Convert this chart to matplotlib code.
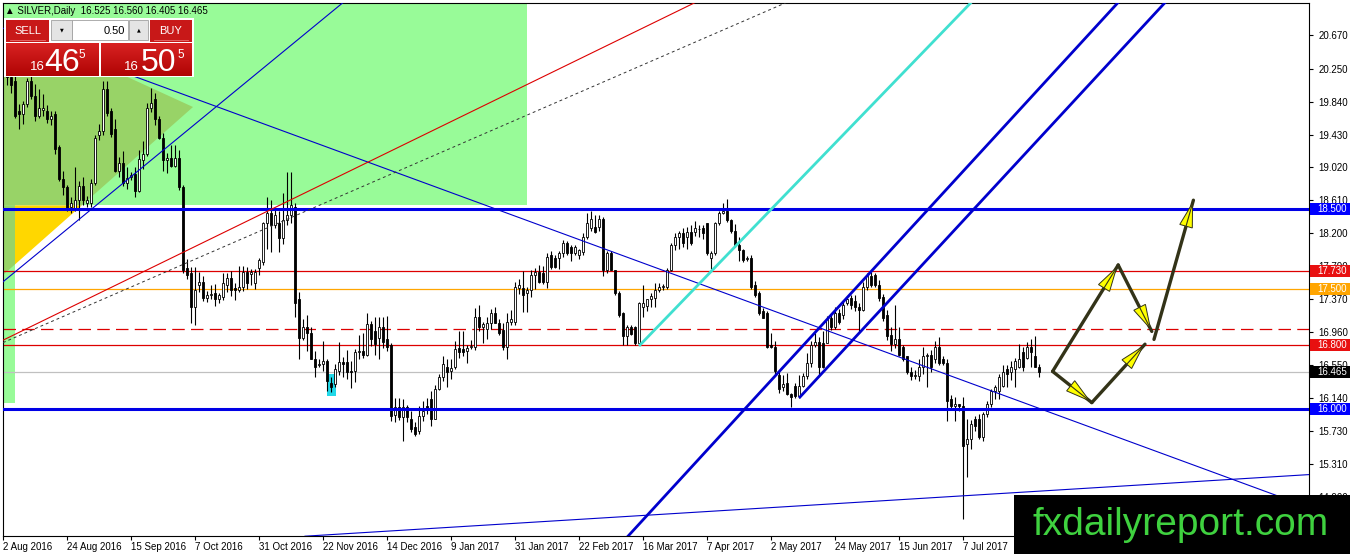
import numpy as np
import matplotlib
matplotlib.use('Agg')
import matplotlib.pyplot as plt
from matplotlib.patches import Rectangle, Polygon
from matplotlib.colors import LinearSegmentedColormap

# daily candles, bar index 0 .. 258 (left to right)
opens = [20.20, 20.15, 20.10, 19.73, 19.69, 19.81, 20.10, 19.91, 19.66, 19.74,
         19.72, 19.62, 19.69, 19.27, 18.88, 18.77, 18.52, 18.51, 18.61, 18.79,
         18.58, 18.58, 18.83, 19.42, 19.48, 20.00, 19.73, 19.50, 18.98, 19.07,
         18.83, 18.90, 18.94, 18.73, 19.11, 19.19, 19.76, 19.87, 19.63, 19.39,
         19.11, 19.14, 19.04, 19.14, 18.77, 17.76, 17.70, 17.28, 17.55, 17.59,
         17.39, 17.43, 17.45, 17.37, 17.40, 17.55, 17.64, 17.51, 17.49, 17.53,
         17.71, 17.69, 17.58, 17.76, 17.84, 18.32, 18.45, 18.30, 18.32, 18.14,
         18.36, 18.42, 18.52, 17.37, 16.89, 17.03, 16.95, 16.62, 16.55, 16.56,
         16.60, 16.33, 16.31, 16.47, 16.59, 16.59, 16.47, 16.47, 16.71, 16.72,
         16.68, 17.06, 16.97, 16.89, 17.03, 16.87, 16.80, 15.93, 16.03, 15.90,
         16.03, 15.88, 15.78, 15.73, 15.91, 16.04, 16.12, 15.88, 16.25, 16.40,
         16.53, 16.48, 16.53, 16.76, 16.75, 16.72, 16.77, 16.77, 17.15, 17.02,
         17.00, 17.07, 17.20, 17.08, 16.99, 16.77, 17.09, 17.09, 17.51, 17.51,
         17.45, 17.49, 17.68, 17.71, 17.70, 17.59, 17.92, 17.89, 17.89, 17.95,
         18.07, 18.02, 17.95, 17.93, 17.96, 18.15, 18.26, 18.27, 18.27, 18.38,
         17.74, 17.95, 17.74, 17.45, 17.20, 16.91, 17.02, 17.03, 16.83, 17.28,
         17.29, 17.37, 17.39, 17.49, 17.52, 17.53, 17.74, 18.05, 18.15, 18.20,
         18.15, 18.21, 18.21, 18.25, 18.26, 18.32, 17.89, 17.95, 18.32, 18.45,
         18.48, 18.36, 18.23, 18.05, 17.99, 17.87, 17.89, 17.55, 17.45, 17.22,
         17.20, 16.80, 16.78, 16.43, 16.27, 16.33, 16.19, 16.29, 16.16, 16.29,
         16.41, 16.58, 16.80, 16.84, 16.83, 16.83, 17.14, 17.02, 17.20, 17.18,
         17.33, 17.39, 17.35, 17.28, 17.24, 17.52, 17.66, 17.68, 17.55, 17.40,
         17.18, 16.93, 16.81, 16.87, 16.78, 16.66, 16.46, 16.41, 16.41, 16.52,
         16.66, 16.68, 16.62, 16.77, 16.62, 16.58, 16.12, 16.04, 16.06, 16.04,
         15.56, 15.63, 15.87, 15.87, 15.65, 15.94, 16.06, 16.22, 16.22, 16.29,
         16.50, 16.46, 16.50, 16.53, 16.71, 16.64, 16.78, 16.66, 16.525]
highs = [20.35, 20.25, 20.20, 19.81, 19.85, 20.14, 20.18, 20.06, 20.00, 19.94,
         19.80, 19.73, 19.72, 19.30, 18.98, 18.80, 18.65, 19.02, 18.85, 18.90,
         18.66, 18.88, 19.42, 19.56, 20.10, 20.10, 19.76, 19.62, 19.15, 19.23,
         19.02, 18.96, 19.02, 19.24, 19.35, 19.82, 20.01, 19.95, 19.66, 19.45,
         19.20, 19.30, 19.30, 19.24, 18.80, 17.88, 17.77, 17.78, 17.71, 17.66,
         17.47, 17.55, 17.56, 17.45, 17.70, 17.70, 17.72, 17.58, 17.79, 17.79,
         17.78, 17.75, 17.75, 17.89, 18.34, 18.65, 18.61, 18.50, 18.48, 18.70,
         18.96, 18.96, 18.58, 17.46, 17.13, 17.18, 17.02, 16.72, 16.62, 16.85,
         16.62, 16.40, 16.56, 16.84, 16.65, 16.74, 16.60, 16.75, 16.93, 16.95,
         17.20, 17.10, 17.15, 17.15, 17.15, 17.16, 16.82, 16.14, 16.14, 16.12,
         16.05, 15.97, 15.84, 16.04, 16.10, 16.14, 16.22, 16.30, 16.44, 16.66,
         16.62, 16.62, 16.85, 16.97, 16.98, 16.80, 16.86, 17.26, 17.30, 17.09,
         17.15, 17.25, 17.27, 17.13, 17.07, 17.20, 17.24, 17.59, 17.63, 17.72,
         17.53, 17.74, 17.76, 17.80, 17.79, 17.95, 17.97, 17.92, 17.97, 18.11,
         18.10, 18.05, 18.05, 18.00, 18.20, 18.45, 18.47, 18.42, 18.43, 18.40,
         17.97, 17.97, 17.74, 17.47, 17.21, 17.05, 17.05, 17.04, 17.34, 17.55,
         17.38, 17.45, 17.57, 17.57, 17.56, 17.76, 18.07, 18.20, 18.22, 18.26,
         18.27, 18.30, 18.35, 18.30, 18.30, 18.32, 17.97, 18.34, 18.48, 18.57,
         18.62, 18.38, 18.31, 18.15, 18.00, 17.91, 17.92, 17.60, 17.48, 17.26,
         17.22, 16.95, 16.85, 16.48, 16.43, 16.45, 16.20, 16.33, 16.43, 16.45,
         16.70, 16.85, 16.95, 16.90, 16.97, 17.16, 17.20, 17.27, 17.25, 17.36,
         17.41, 17.43, 17.43, 17.33, 17.59, 17.70, 17.71, 17.70, 17.61, 17.44,
         17.24, 17.02, 17.30, 17.02, 16.80, 16.66, 16.52, 16.49, 16.62, 16.77,
         16.70, 16.74, 16.85, 16.90, 16.66, 16.62, 16.18, 16.15, 16.06, 16.15,
         15.88, 15.86, 15.91, 15.94, 15.96, 16.10, 16.25, 16.30, 16.44, 16.55,
         16.55, 16.60, 16.64, 16.81, 16.77, 16.84, 16.87, 16.91, 16.56]
lows = [20.05, 19.95, 19.64, 19.50, 19.56, 19.78, 19.88, 19.60, 19.64, 19.66,
        19.58, 19.55, 19.19, 18.85, 18.67, 18.48, 18.45, 18.48, 18.36, 18.55,
        18.52, 18.52, 18.80, 19.36, 19.42, 19.66, 19.40, 18.96, 18.90, 18.79,
        18.75, 18.86, 18.65, 18.71, 19.00, 19.16, 19.71, 19.55, 19.37, 18.98,
        18.95, 19.02, 19.02, 18.74, 17.70, 17.62, 17.08, 17.05, 17.46, 17.35,
        17.34, 17.38, 17.29, 17.33, 17.36, 17.46, 17.41, 17.36, 17.46, 17.47,
        17.50, 17.55, 17.50, 17.68, 17.80, 18.00, 17.96, 18.26, 17.96, 18.06,
        18.30, 18.32, 17.15, 16.62, 16.86, 16.73, 16.62, 16.40, 16.52, 16.47,
        16.22, 16.21, 16.28, 16.43, 16.40, 16.37, 16.26, 16.34, 16.63, 16.64,
        16.66, 16.79, 16.68, 16.63, 16.76, 16.73, 15.85, 15.84, 15.86, 15.60,
        15.84, 15.71, 15.66, 15.69, 15.85, 15.94, 15.79, 15.88, 16.24, 16.35,
        16.28, 16.38, 16.50, 16.64, 16.66, 16.58, 16.75, 16.74, 16.97, 16.83,
        16.88, 17.00, 17.07, 16.93, 16.74, 16.62, 17.05, 17.05, 17.44, 17.21,
        17.21, 17.40, 17.50, 17.58, 17.56, 17.51, 17.75, 17.76, 17.75, 17.90,
        17.92, 17.85, 17.92, 17.88, 17.92, 18.13, 18.22, 18.20, 18.23, 17.66,
        17.70, 17.74, 17.42, 17.15, 16.80, 16.80, 16.92, 16.80, 16.80, 17.15,
        17.22, 17.28, 17.27, 17.46, 17.49, 17.50, 17.73, 17.99, 18.00, 18.02,
        18.00, 18.05, 18.16, 18.15, 18.12, 17.92, 17.75, 17.92, 18.30, 18.44,
        18.34, 18.20, 18.03, 17.85, 17.84, 17.85, 17.50, 17.40, 17.18, 17.14,
        16.76, 16.76, 16.42, 16.20, 16.22, 16.17, 16.02, 16.14, 16.14, 16.28,
        16.38, 16.52, 16.78, 16.42, 16.51, 16.83, 16.99, 17.00, 17.06, 17.12,
        17.30, 17.25, 17.23, 16.97, 17.23, 17.49, 17.52, 17.52, 17.35, 17.10,
        16.86, 16.72, 16.76, 16.66, 16.60, 16.44, 16.36, 16.37, 16.35, 16.44,
        16.27, 16.46, 16.58, 16.55, 16.55, 15.85, 16.00, 15.85, 15.98, 14.62,
        15.15, 15.50, 15.72, 15.63, 15.60, 15.90, 16.02, 16.13, 16.13, 16.28,
        16.28, 16.36, 16.27, 16.51, 16.48, 16.62, 16.52, 16.53, 16.405]
closes = [20.15, 20.05, 19.66, 19.69, 19.81, 20.10, 19.91, 19.66, 19.76, 19.76,
          19.62, 19.66, 19.25, 18.88, 18.77, 18.51, 18.57, 18.61, 18.79, 18.61,
          18.61, 18.83, 19.39, 19.48, 20.00, 19.70, 19.44, 18.98, 19.07, 18.83,
          18.89, 18.92, 18.73, 19.13, 19.19, 19.76, 19.83, 19.63, 19.39, 19.11,
          19.14, 19.04, 19.14, 18.77, 17.74, 17.68, 17.28, 17.49, 17.59, 17.39,
          17.43, 17.44, 17.37, 17.42, 17.58, 17.64, 17.49, 17.49, 17.53, 17.71,
          17.58, 17.71, 17.71, 17.86, 18.32, 18.45, 18.30, 18.42, 18.14, 18.36,
          18.42, 18.55, 17.33, 16.89, 17.03, 16.95, 16.62, 16.53, 16.56, 16.60,
          16.35, 16.28, 16.50, 16.59, 16.56, 16.46, 16.46, 16.71, 16.72, 16.68,
          17.06, 16.87, 16.81, 17.02, 16.84, 16.78, 15.91, 16.03, 15.90, 16.03,
          15.90, 15.75, 15.69, 15.91, 15.97, 16.00, 15.88, 16.25, 16.40, 16.56,
          16.46, 16.51, 16.75, 16.71, 16.71, 16.76, 16.79, 17.15, 17.02, 17.06,
          17.08, 17.20, 17.08, 16.95, 16.77, 17.09, 17.12, 17.53, 17.55, 17.43,
          17.49, 17.68, 17.71, 17.59, 17.59, 17.90, 17.78, 17.78, 17.95, 18.07,
          17.95, 17.95, 18.02, 17.99, 18.15, 18.33, 18.38, 18.21, 18.38, 17.74,
          17.95, 17.74, 17.45, 17.18, 16.91, 17.02, 16.94, 16.83, 17.33, 17.33,
          17.37, 17.41, 17.49, 17.53, 17.54, 17.74, 18.05, 18.15, 18.20, 18.07,
          18.21, 18.07, 18.26, 18.25, 18.20, 17.95, 17.95, 18.32, 18.45, 18.48,
          18.36, 18.23, 18.05, 17.99, 17.86, 17.89, 17.53, 17.43, 17.20, 17.14,
          16.78, 16.78, 16.47, 16.25, 16.31, 16.19, 16.15, 16.16, 16.29, 16.41,
          16.58, 16.80, 16.84, 16.53, 16.53, 17.12, 17.02, 17.20, 17.09, 17.30,
          17.37, 17.30, 17.28, 17.24, 17.53, 17.66, 17.55, 17.55, 17.39, 17.14,
          16.91, 16.81, 16.87, 16.68, 16.62, 16.46, 16.41, 16.43, 16.52, 16.66,
          16.68, 16.53, 16.77, 16.58, 16.58, 16.10, 16.04, 16.06, 16.04, 15.54,
          15.63, 15.81, 15.79, 15.65, 15.94, 16.06, 16.22, 16.27, 16.40, 16.46,
          16.44, 16.53, 16.60, 16.62, 16.53, 16.78, 16.71, 16.53, 16.465]

date_labels = ['2 Aug 2016', '24 Aug 2016', '15 Sep 2016', '7 Oct 2016', '31 Oct 2016',
               '22 Nov 2016', '14 Dec 2016', '9 Jan 2017', '31 Jan 2017', '22 Feb 2017',
               '16 Mar 2017', '7 Apr 2017', '2 May 2017', '24 May 2017', '15 Jun 2017',
               '7 Jul 2017']
date_bars = [-1, 15, 31, 47, 63, 79, 95, 111, 127, 143, 159, 175, 191, 207, 223, 239]

price_ticks = [20.670, 20.250, 19.840, 19.430, 19.020, 18.610, 18.200, 17.790,
               17.370, 16.960, 16.550, 16.140, 15.730, 15.310, 14.900]

# horizontal levels
support_levels = [18.500, 16.000]
red_levels = [17.730, 16.800]
orange_level = 17.500
dashed_level = 17.000
bid = 16.465

# trend lines (bar index, price)
blue_up = ([-1, 84.0], [17.59, 21.08])
blue_down = ([-1, 325.5], [20.76, 14.77])
red_up = ([-1, 172.0], [16.86, 21.08])
dotted_up = ([-1, 194.8], [16.83, 21.08])
cyan_up = ([158.25, 241.0], [16.80, 21.08])
channel_a = ([155.25, 277.75], [14.41, 21.08])
channel_b = ([198.25, 289.5], [16.15, 21.08])
bottom_line = ([74.5, 325.5], [14.41, 15.18])

# forecast arrows
arrow_x0 = [261.4, 271.2, 261.4, 277.8, 286.75]
arrow_p0 = [16.47, 16.08, 16.47, 17.80, 16.87]
arrow_x1 = [271.2, 284.5, 277.8, 286.2, 296.6]
arrow_p1 = [16.08, 16.81, 17.80, 16.97, 18.61]

W, H = 1350, 554
fig = plt.figure(figsize=(W / 100, H / 100), dpi=100)
fig.patch.set_facecolor('white')
ax = fig.add_axes([3 / W, (H - 536) / H, 1306 / W, 533 / H])
ax.set_xlim(-1, 325.5)
ax.set_ylim(14.4125, 21.075)

def px(x):
    return (x - 7) / 4.0

def pr(y):
    return 18.5 - (y - 209) / 80.0

# background shapes
ax.add_patch(Rectangle((-1, pr(205.5)), px(526.5) + 1, 3, fc='#98fb98', ec='none', zorder=0))
ax.add_patch(Rectangle((-1, pr(403)), px(15) + 1, pr(205.5) - pr(403), fc='#98fb98', ec='none', zorder=0))
olive = '#98d367'
ax.add_patch(Polygon([(px(3), pr(20)), (px(193), pr(107)), (px(81.6), pr(205.5)), (px(3), pr(205.5))],
                     closed=True, fc=olive, ec='none', zorder=0.5))
ax.add_patch(Polygon([(px(3), pr(205.5)), (px(15), pr(205.5)), (px(15), pr(264.4)), (px(3), pr(275))],
                     closed=True, fc=olive, ec='none', zorder=0.5))
ax.add_patch(Polygon([(px(15), pr(205.5)), (px(81.6), pr(205.5)), (px(15), pr(264.4))],
                     closed=True, fc='#ffd700', ec='none', zorder=0.5))
ax.add_patch(Rectangle((80, 16.1625), 2.25, 0.275, fc='#20d8e8', ec='none', zorder=0.6))

# levels
for lv in support_levels:
    ax.axhline(lv, color='#0000e6', lw=2.2, zorder=6)
for lv in red_levels:
    ax.axhline(lv, color='#dd0000', lw=0.9, zorder=2)
ax.axhline(orange_level, color='#ffa500', lw=0.9, zorder=2)
ax.axhline(dashed_level, color='#dd0000', lw=0.9, ls=(0, (10, 5)), zorder=2)
ax.axhline(bid, color='#c0c0c0', lw=0.9, zorder=1)

# trend lines
ax.plot(*blue_up, color='#0000cc', lw=0.8, zorder=6)
ax.plot(*blue_down, color='#0000cc', lw=0.8, zorder=6)
ax.plot(*bottom_line, color='#0000cc', lw=0.8, zorder=6)
ax.plot(*red_up, color='#dd0000', lw=0.8, zorder=6)
ax.plot(*dotted_up, color='#333333', lw=0.7, ls=(0, (3, 3)), zorder=6)
ax.plot(*cyan_up, color='#40e0d0', lw=2.0, zorder=6)
ax.plot(*channel_a, color='#0000cd', lw=2.0, zorder=6)
ax.plot(*channel_b, color='#0000cd', lw=2.0, zorder=6)

# candles
x = np.arange(len(closes))
o = np.array(opens)
c = np.array(closes)
hi = np.maximum(np.array(highs), np.maximum(o, c))
lo = np.minimum(np.array(lows), np.minimum(o, c))
ax.vlines(x, lo, hi, color='black', lw=0.8, zorder=4)
body_fc = ['white' if cc >= oo else 'black' for oo, cc in zip(o, c)]
ax.bar(x, np.abs(c - o), bottom=np.minimum(o, c), width=0.6, color=body_fc,
       edgecolor='black', linewidth=0.6, zorder=5)

# arrows
fig.canvas.draw()
to_disp = ax.transData
to_data = ax.transData.inverted()
for x0, p0, x1, p1 in zip(arrow_x0, arrow_p0, arrow_x1, arrow_p1):
    a = to_disp.transform((x0, p0))
    b = to_disp.transform((x1, p1))
    d = b - a
    u = d / np.hypot(*d)
    n = np.array([-u[1], u[0]])
    tip = b - u * 3
    base = tip - u * 24
    head = [tip, base + n * 6.5, base - n * 6.5]
    ax.plot([x0, x1], [p0, p1], color='#333318', lw=2.4, zorder=7, solid_capstyle='round')
    ax.add_patch(Polygon(to_data.transform(head), closed=True, fc='#ffff00',
                         ec='#333318', lw=0.7, zorder=8))
    ax.plot(to_data.transform([tip, base])[:, 0], to_data.transform([tip, base])[:, 1],
            color='#333318', lw=0.8, zorder=9)

# axes styling
for s in ax.spines.values():
    s.set_color('black')
    s.set_linewidth(0.8)
ax.yaxis.tick_right()
ax.set_yticks(price_ticks)
ax.set_yticklabels(['%.3f' % t for t in price_ticks])
ax.set_xticks(date_bars)
ax.set_xticklabels(date_labels, ha='left')
ax.tick_params(axis='both', length=3, width=0.8, labelsize=7, colors='black')
ax.tick_params(axis='y', pad=4)
ax.tick_params(axis='x', pad=1.5)
for lab in ax.get_xticklabels() + ax.get_yticklabels():
    lab.set_family('Liberation Sans')

# price labels on the right
tag_prices = [18.500, 17.730, 17.500, 16.800, 16.465, 16.000]
tag_colors = ['#0000ff', '#e81010', '#ffa500', '#e81010', '#000000', '#0000ff']
ytr = ax.get_yaxis_transform()
for p, col in zip(tag_prices, tag_colors):
    ax.add_patch(Rectangle((1307 / 1306, p - 0.075), 41 / 1306, 0.15, transform=ytr,
                           fc=col, ec='none', clip_on=False, zorder=20))
    ax.text(1329 / 1306, p, '%.3f' % p, transform=ytr, color='white', fontsize=7,
            family='Liberation Sans', ha='center', va='center', clip_on=False, zorder=21)

# overlay in pixel coordinates for panel, title and logo
ov = fig.add_axes([0, 0, 1, 1])
ov.set_zorder(5)
ov.patch.set_visible(False)
ov.axis('off')

title = '\u25b2 SILVER,Daily  %.3f %.3f %.3f %.3f' % (opens[-1], highs[-1], lows[-1], closes[-1])
ov.text(5, 11, title, fontsize=7, family=['Liberation Sans', 'DejaVu Sans'], va='center', ha='left')

red = '#c81818'
ov.add_patch(Rectangle((4, 18), 190, 59, fc='white', ec='none'))
ov.add_patch(Rectangle((6, 20), 43, 22, fc=red, ec='none'))
ov.add_patch(Rectangle((150, 20), 42, 22, fc=red, ec='none'))
ov.add_patch(Rectangle((51, 20), 21, 20, fc='#e4e4e4', ec='#a0a0a0', lw=0.6))
ov.add_patch(Rectangle((72, 20), 56, 20, fc='white', ec='#a0a0a0', lw=0.6))
ov.add_patch(Rectangle((129, 20), 19, 20, fc='#e4e4e4', ec='#a0a0a0', lw=0.6))
ov.plot([10, 45], [40, 40], color='#e87070', lw=0.6)
ov.plot([154, 188], [40, 40], color='#e87070', lw=0.6)
ov.text(27.5, 31, 'SELL', color='white', fontsize=8, family='Liberation Sans', ha='center', va='center')
ov.text(171, 31, 'BUY', color='white', fontsize=8, family='Liberation Sans', ha='center', va='center')
ov.text(61.5, 30, '\u25bc', color='black', fontsize=3.5, family='DejaVu Sans', ha='center', va='center')
ov.text(138.5, 30, '\u25b2', color='black', fontsize=3.5, family='DejaVu Sans', ha='center', va='center')
ov.text(125, 30.5, '0.50', color='black', fontsize=8, family='Liberation Sans', ha='right', va='center')

grad = np.linspace(0, 1, 64)[:, None]
red_cmap = LinearSegmentedColormap.from_list('panel', ['#d82222', '#b00404'])
ov.imshow(grad, extent=(6, 99, 76, 43), cmap=red_cmap, aspect='auto', zorder=1)
ov.imshow(grad, extent=(101, 192, 76, 43), cmap=red_cmap, aspect='auto', zorder=1)
big = dict(color='white', family='Liberation Sans', va='baseline', zorder=3)
ov.text(37, 70, '16', fontsize=9.5, ha='center', **big)
ov.text(62, 71, '46', fontsize=23, ha='center', **big)
ov.text(82, 58, '5', fontsize=8.5, ha='center', **big)
ov.text(131, 70, '16', fontsize=9.5, ha='center', **big)
ov.text(158, 71, '50', fontsize=23, ha='center', **big)
ov.text(181, 58, '5', fontsize=8.5, ha='center', **big)

ov.add_patch(Rectangle((1014, 495), 336, 59, fc='black', ec='none', zorder=4))
ov.text(1181, 535, 'fxdailyreport.com', color='#3fd13f', fontsize=28,
        family='Liberation Sans', ha='center', va='baseline', zorder=5)

ov.set_xlim(0, W)
ov.set_ylim(H, 0)

fig.savefig('out.png', dpi=100)
